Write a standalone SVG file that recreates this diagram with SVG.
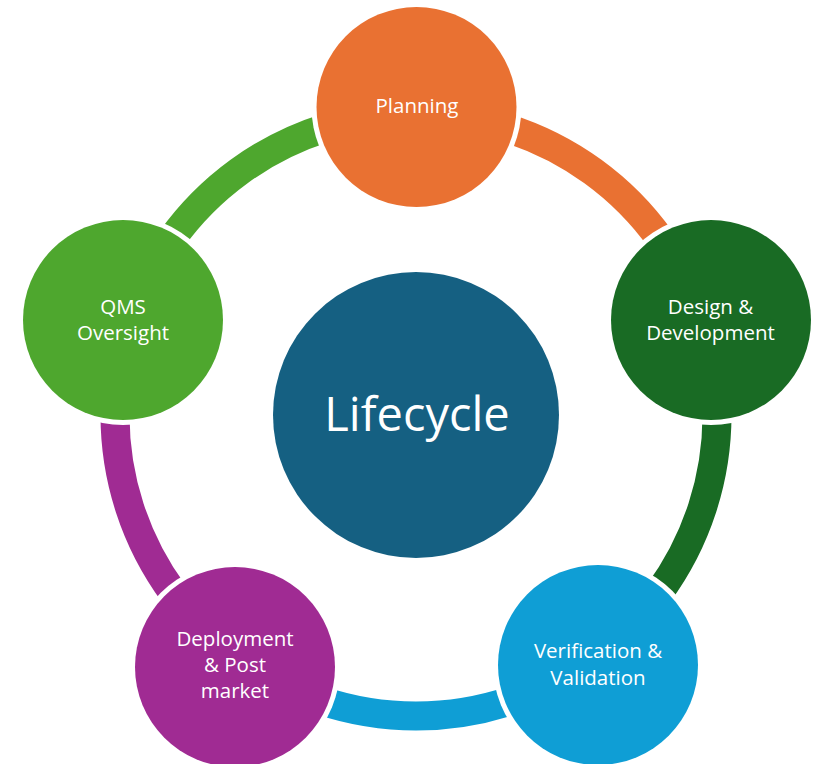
<svg xmlns="http://www.w3.org/2000/svg" width="823" height="764" viewBox="0 0 823 764">
  <style>
    .band { fill: none; stroke-width: 29; stroke-linecap: butt; }
    .halo { fill: #FFFFFF; }
    .label { font-family: "Open Sans", "Noto Sans", sans-serif; font-size: 20.5px; fill: #FFFFFF; text-anchor: middle; }
    .title { font-family: "Open Sans", "Noto Sans", sans-serif; font-size: 47px; fill: #FFFFFF; text-anchor: middle; }
  </style>
  <rect width="823" height="764" fill="#FFFFFF"/>

  <!-- ring segments, each coloured like the stage it leaves -->
  <g id="connectors">
    <path class="band" stroke="#E97132" d="M416,114 A301,301 0 0 1 702.27,321.99"/>
    <path class="band" stroke="#196B24" d="M702.27,321.99 A301,301 0 0 1 592.92,658.51"/>
    <path class="band" stroke="#0F9ED5" d="M592.92,658.51 A301,301 0 0 1 239.08,658.51"/>
    <path class="band" stroke="#A02B93" d="M239.08,658.51 A301,301 0 0 1 129.73,321.99"/>
    <path class="band" stroke="#4EA72E" d="M129.73,321.99 A301,301 0 0 1 416,114"/>
  </g>

  <g id="center">
    <circle cx="416" cy="415" r="143" fill="#156082"/>
    <text class="title" x="417" y="431">Lifecycle</text>
  </g>

  <g id="planning">
    <circle class="halo" cx="416.5" cy="107" r="105"/>
    <circle cx="416.5" cy="107" r="100" fill="#E97132"/>
    <text class="label" x="417" y="113">Planning</text>
  </g>

  <g id="design">
    <circle class="halo" cx="711" cy="320" r="105"/>
    <circle cx="711" cy="320" r="100" fill="#196B24"/>
    <text class="label" x="710.5" y="314">Design &amp;</text>
    <text class="label" x="710.5" y="340">Development</text>
  </g>

  <g id="verification">
    <circle class="halo" cx="598" cy="665" r="105"/>
    <circle cx="598" cy="665" r="100" fill="#0F9ED5"/>
    <text class="label" x="598" y="658">Verification &amp;</text>
    <text class="label" x="598" y="685">Validation</text>
  </g>

  <g id="deployment">
    <circle class="halo" cx="235" cy="667" r="105"/>
    <circle cx="235" cy="667" r="100" fill="#A02B93"/>
    <text class="label" x="235" y="646">Deployment</text>
    <text class="label" x="235" y="672">&amp; Post</text>
    <text class="label" x="235" y="698">market</text>
  </g>

  <g id="qms">
    <circle class="halo" cx="123" cy="320" r="105"/>
    <circle cx="123" cy="320" r="100" fill="#4EA72E"/>
    <text class="label" x="123" y="314">QMS</text>
    <text class="label" x="123" y="340">Oversight</text>
  </g>
</svg>
